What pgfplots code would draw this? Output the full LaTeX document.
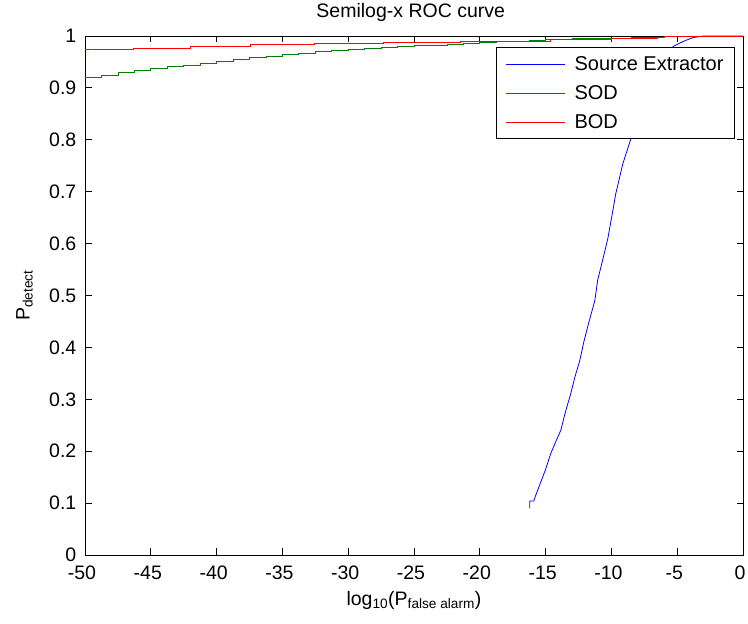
\documentclass[border=0pt]{standalone}
\usepackage{fontspec}
\setmainfont{Liberation Sans}
\usepackage{pgfplots}
\pgfplotsset{compat=1.18}
\definecolor{mblue}{rgb}{0,0,1}
\definecolor{mgreen}{rgb}{0,0.5,0}
\definecolor{mred}{rgb}{1,0,0}
\begin{document}
\begin{tikzpicture}[x=1pt,y=1pt]
\useasboundingbox (0,0) rectangle (748,624);
\begin{axis}[
  at={(85pt,69pt)}, anchor=south west,
  scale only axis, width=658pt, height=519pt,
  xmin=-50, xmax=0, ymin=0, ymax=1,
  xtick={-50,-45,-40,-35,-30,-25,-20,-15,-10,-5,0},
  ytick={0,0.1,0.2,0.3,0.4,0.5,0.6,0.7,0.8,0.9,1},
  /pgf/number format/assume math mode=true,
  /pgf/number format/fixed,
  tick label style={font=\fontsize{19.5}{22}\selectfont, inner sep=0.5pt},
  xticklabel style={yshift=-10.5pt, xshift=-3pt},
  yticklabel style={xshift=-8pt},
  axis line style={line width=0.9pt, black},
  tick style={line width=0.9pt, black},
  major tick length=6.5pt, tick align=inside,
  xtick pos=both, ytick pos=both,
  title={Semilog-x ROC curve},
  title style={at={(axis description cs:0.495,1.025)}, anchor=base, font=\fontsize{19.5}{22}\selectfont},
  xlabel={log\textsubscript{10}(P\textsubscript{false alarm})},
  xlabel style={at={(axis description cs:0.5,-0.0867)}, anchor=center, font=\fontsize{19.5}{22}\selectfont},
  ylabel={P\textsubscript{detect}},
  ylabel style={at={(axis description cs:-0.092,0.5)}, anchor=center, rotate=0, font=\fontsize{19.5}{22}\selectfont},
  legend style={at={(0.9878,0.9788)}, anchor=north east, line width=0.9pt, fill=white,
    font=\fontsize{20}{23}\selectfont, inner xsep=9pt, inner ysep=7pt, row sep=9.5pt,
    cells={anchor=west}, /tikz/every odd column/.append style={column sep=7pt}},
  legend image code/.code={\draw[#1] (0pt,0pt) -- (59pt,0pt);},
]
\addlegendimage{mblue, line width=0.8pt}
\addlegendentry{Source Extractor}
\addlegendimage{mgreen, line width=0.8pt}
\addlegendentry{SOD}
\addlegendimage{mred, line width=0.8pt}
\addlegendentry{BOD}
\addplot[mblue, line width=0.8pt, forget plot] coordinates {
(-16.2,0.09) (-16.2,0.104) (-15.9,0.104) (-15.75,0.115) (-15.45,0.135) (-15.0,0.165)
(-14.6,0.196) (-14.2,0.22) (-13.85,0.24) (-13.5,0.275) (-13.1,0.31) (-12.75,0.345)
(-12.4,0.375) (-12.1,0.41) (-11.8,0.44) (-11.5,0.468) (-11.26,0.49) (-11.04,0.53)
(-10.6,0.575) (-10.27,0.61) (-9.95,0.655) (-9.67,0.696) (-9.13,0.754) (-8.52,0.802)
(-7.8,0.86) (-7.0,0.91) (-6.2,0.95) (-5.3,0.98) (-4.5,0.99) (-3.8,0.997) (-3,1.0) (0,1.0)
};
\addplot[mgreen, line width=0.8pt, const plot, forget plot] coordinates {
(-50,0.921) (-48.75,0.925) (-47.5,0.929) (-46.25,0.933) (-45,0.937) (-43.75,0.941)
(-42.5,0.944) (-41.25,0.948) (-40,0.952) (-38.75,0.955) (-37.5,0.958) (-36.25,0.961)
(-35,0.964) (-33.75,0.967) (-32.5,0.970) (-31.25,0.972) (-30,0.974) (-28.75,0.976)
(-27.5,0.978) (-26.25,0.979) (-25,0.981) (-23.75,0.982) (-22.5,0.984) (-21.25,0.986)
(-20,0.988) (-18.75,0.989) (-17.5,0.990) (-16.25,0.992) (-15,0.993) (-13,0.995)
(-11,0.996) (-8.5,0.997) (-6.5,0.998) (-6,1.0) (0,1.0)
};
\addplot[mred, line width=0.8pt, const plot, forget plot] coordinates {
(-50,0.974) (-46.3,0.977) (-42,0.980) (-37.4,0.983) (-32.6,0.986) (-27.3,0.988)
(-21.5,0.990) (-14.6,0.994) (-10,0.996) (-6.5,0.998) (-6,1.0) (0,1.0)
};
\end{axis}
\end{tikzpicture}
\end{document}
